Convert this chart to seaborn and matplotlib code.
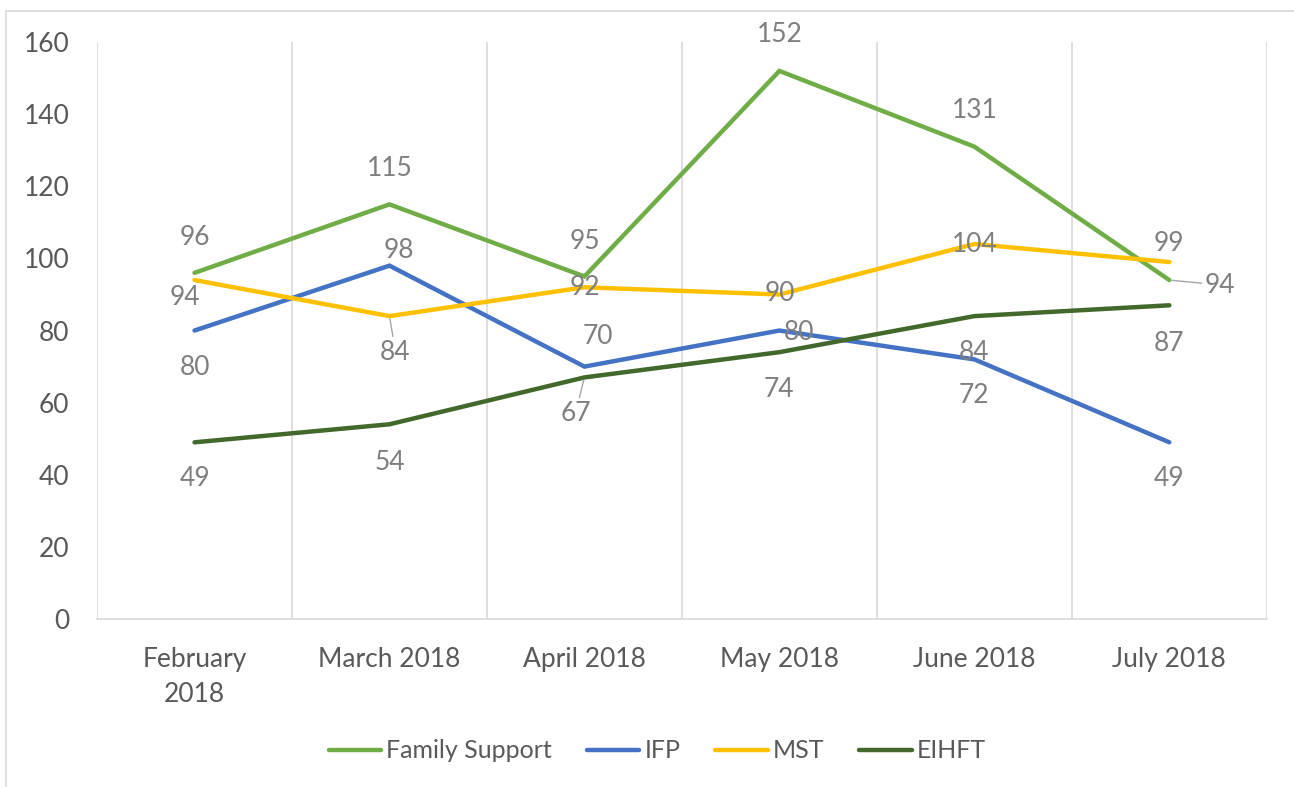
import numpy as np
import pandas as pd
import matplotlib
matplotlib.use('Agg')
import matplotlib.pyplot as plt
from matplotlib import font_manager
from matplotlib.lines import Line2D
import seaborn as sns

months = ['February\n2018', 'March 2018', 'April 2018', 'May 2018', 'June 2018', 'July 2018']
series = ['Family Support', 'IFP', 'MST', 'EIHFT']
family_support = [96, 115, 95, 152, 131, 94]
ifp = [80, 98, 70, 80, 72, 49]
mst = [94, 84, 92, 90, 104, 99]
eihft = [49, 54, 67, 74, 84, 87]

COLORS = ['#70AD47', '#4472C4', '#FFC000', '#43682B']

# label offsets in pixels (dx, dy up), and whether a leader line is drawn
LABEL_POS = {
    'Family Support': [(0, 35), (0, 36), (0, 35), (0, 36), (0, 36), (51, -5)],
    'IFP': [(0, -37), (9, 15), (13, 30), (20, -2), (0, -36), (0, -36)],
    'MST': [(-10, -17), (6, -36), (0, 0), (0, 1), (0, 0), (0, 19)],
    'EIHFT': [(0, -36), (0, -38), (-9, -36), (0, -37), (0, -36), (0, -38)],
}
LEADERS = {('Family Support', 5), ('MST', 1), ('EIHFT', 2)}

installed = {f.name for f in font_manager.fontManager.ttflist}
FONT = next((f for f in ['Liberation Sans Narrow', 'Lato', 'DejaVu Sans'] if f in installed), 'DejaVu Sans')

sns.set_theme(style='white')
plt.rcParams['font.family'] = [FONT, 'DejaVu Sans']

values = [family_support, ifp, mst, eihft]
df = pd.DataFrame({
    'month': np.tile(np.arange(len(months)), len(series)),
    'series': np.repeat(series, len(months)),
    'value': np.concatenate(values),
})

fig = plt.figure(figsize=(12.94, 7.87), dpi=100)
ax = fig.add_axes([0.075, 0.2135, 0.904, 0.733])

sns.lineplot(data=df, x='month', y='value', hue='series', hue_order=series,
             palette=COLORS, linewidth=3.2, legend=False, ax=ax, sort=False)
for line in ax.lines:
    line.set_solid_joinstyle('miter')

ax.set_xlim(-0.5, len(months) - 0.5)
ax.set_ylim(0, 160)
ax.set_yticks(range(0, 161, 20))
ax.set_xticks(range(len(months)))
ax.set_xticklabels(months, linespacing=1.5)
ax.set_xlabel('')
ax.set_ylabel('')
ax.tick_params(axis='y', length=0, pad=20, labelsize=19, labelcolor='#595959')
ax.tick_params(axis='x', length=0, pad=20, labelsize=19, labelcolor='#595959')

# vertical gridlines at category boundaries
for b in np.arange(-0.5, len(months), 1.0):
    ax.axvline(b, color='#D9D9D9', lw=1.2, zorder=0)
for s in ['top', 'right', 'left']:
    ax.spines[s].set_visible(False)
ax.spines['bottom'].set_color('#D9D9D9')
ax.spines['bottom'].set_linewidth(1.2)

px = 0.72
for name, vals in zip(series, values):
    for i, v in enumerate(vals):
        dx, dy = LABEL_POS[name][i]
        arrow = None
        if (name, i) in LEADERS:
            arrow = dict(arrowstyle='-', color='#A6A6A6', lw=1.0, shrinkA=0, shrinkB=2)
        ax.annotate(str(v), (i, v), xytext=(dx * px, dy * px), textcoords='offset points',
                    ha='center', va='center', fontsize=19, color='#7F7F7F',
                    arrowprops=arrow, zorder=5)

handles = [Line2D([], [], color=c, lw=3.2) for c in COLORS]
fig.legend(handles, series, loc='center', bbox_to_anchor=(0.508, 0.046), ncol=4,
           frameon=False, fontsize=18, handlelength=2.1, handletextpad=0.2,
           columnspacing=1.4, labelcolor='#595959')

# chart border
fig.add_artist(Line2D([6 / 1294, 6 / 1294], [0, 1 - 11 / 787], transform=fig.transFigure,
                      color='#D9D9D9', lw=1.2))
fig.add_artist(Line2D([6 / 1294, 1], [1 - 11 / 787, 1 - 11 / 787], transform=fig.transFigure,
                      color='#D9D9D9', lw=1.2))

fig.savefig('out.png', dpi=100)
